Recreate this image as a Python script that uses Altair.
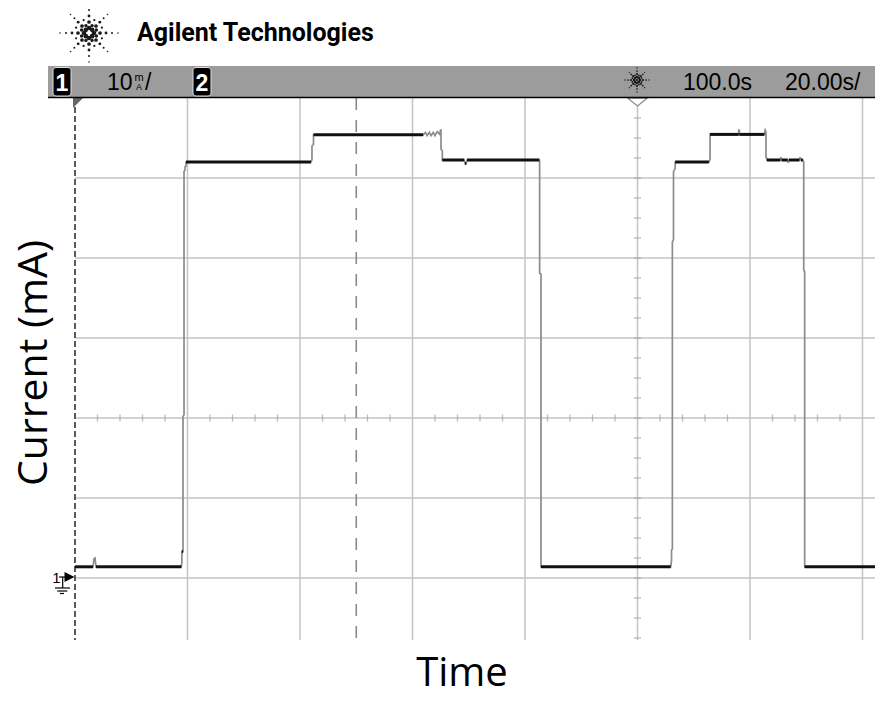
import math
import altair as alt
import pandas as pd

# ---------------- data read from the scope screen ----------------
# time in s (20 s/div), current in mA (10 mA/div), 0 mA = ground marker
trace_t = [0, 3.2, 3.38, 3.56, 3.73,
           18.9, 19.0, 19.0, 19.2, 19.2, 19.38, 19.38, 19.56, 19.56, 19.73, 19.73,
           41.96, 42.13, 42.13, 42.4, 42.4,
           61.9, 62.3, 62.6, 63.0, 63.3, 63.7, 64.0, 64.4, 64.8, 65.0, 65.07, 65.07, 65.3, 65.3,
           69.2, 69.35, 69.55, 69.7,
           82.55, 82.6, 82.6, 82.84, 82.84,
           105.9, 106.05, 106.05, 106.2, 106.2, 106.4, 106.4, 106.7, 106.7,
           112.7, 112.9, 112.9,
           118.0, 118.0, 118.1, 118.1,
           122.55, 122.7, 122.84, 122.84, 123.0, 123.0,
           125.4, 125.5, 125.6,
           126.7, 126.8, 126.9,
           128.8, 128.9, 129.05,
           129.4, 129.55, 129.55, 129.72, 129.72,
           143.64]
trace_i = [1.4, 1.4, 2.4, 2.5, 1.4,
           1.4, 1.9, 3.3, 3.3, 20.2, 20.4, 50.8, 51.0, 51.4, 51.5, 52.0,
           52.0, 52.3, 54.0, 54.2, 55.4,
           55.4, 55.7, 55.3, 55.7, 55.3, 55.7, 55.3, 55.8, 55.5, 56.0, 56.0, 53.6, 53.4, 52.25,
           52.25, 51.8, 51.8, 52.25,
           52.25, 52.0, 38.1, 38.0, 1.4,
           1.4, 2.2, 3.5, 3.6, 42.0, 42.3, 50.8, 51.2, 52.0,
           52.0, 52.3, 55.45,
           55.45, 56.0, 56.0, 55.45,
           55.45, 56.0, 55.8, 52.6, 52.4, 52.25,
           52.25, 52.6, 52.25,
           52.25, 51.9, 52.25,
           52.25, 52.6, 52.25,
           52.25, 52.0, 38.5, 38.3, 1.4,
           1.4]

grid_t = [20, 40, 60, 80, 100, 120, 140]
grid_i = [0, 10, 20, 30, 40, 50]
center_t = 100      # vertical graticule line carrying minor ticks
center_i = 20       # horizontal graticule line carrying minor ticks
cursor_t = [50]     # dashed cursor
edge_t = [0]        # dashed left edge
minor_t = [t for t in range(4, 144, 4) if t % 20]
minor_i = [k * 2.5 for k in range(-3, 24)]

bar_left_texts = ["10", "/"]
bar_right_texts = ["100.0s", "20.00s/"]
channel_labels = ["1", "2"]
header_text = "Agilent Technologies"
x_title = "Time"
y_title = "Current (mA)"

# ---------------- geometry helpers (screen px -> data units) ----------------
PX_PER_S = 5.625
PX_PER_MA = 8.0
LEFT, GROUND = 75.0, 578.0
PLOT_W, PLOT_H = 800, 542


def tx(px):
    return (px - LEFT) / PX_PER_S


def iy(py):
    return (GROUND - py) / PX_PER_MA


T_MAX = PLOT_W / PX_PER_S
I_MIN, I_MAX = iy(98 + PLOT_H), iy(98)

xs = alt.Scale(domain=[0, T_MAX], nice=False, zero=False)
ys = alt.Scale(domain=[I_MIN, I_MAX], nice=False, zero=False)


def X(f):
    return alt.X(f, type="quantitative", scale=xs, axis=None)


def Y(f):
    return alt.Y(f, type="quantitative", scale=ys, axis=None)


layers = []

# graticule
layers.append(alt.Chart(pd.DataFrame({"t": grid_t})).mark_rule(color="#c4c4c4", strokeWidth=1.5).encode(x=X("t")))
layers.append(alt.Chart(pd.DataFrame({"i": grid_i})).mark_rule(color="#c4c4c4", strokeWidth=1.5).encode(y=Y("i")))
layers.append(alt.Chart(pd.DataFrame({"t": minor_t, "i": [center_i] * len(minor_t)}))
              .mark_tick(orient="vertical", size=7, thickness=1.3, color="#a0a0a0")
              .encode(x=X("t"), y=Y("i")))
layers.append(alt.Chart(pd.DataFrame({"t": [center_t] * len(minor_i), "i": minor_i}))
              .mark_tick(orient="horizontal", size=7, thickness=1.3, color="#a0a0a0")
              .encode(x=X("t"), y=Y("i")))
layers.append(alt.Chart(pd.DataFrame({"t": cursor_t})).mark_rule(color="#8a8a8a", strokeWidth=1.6, strokeDash=[12, 10]).encode(x=X("t")))
layers.append(alt.Chart(pd.DataFrame({"t": edge_t})).mark_rule(color="#5a5a5a", strokeWidth=2, strokeDash=[6, 3]).encode(x=X("t")))

# trace: thin gray path + thick black horizontal runs
trace = pd.DataFrame({"t": trace_t, "i": trace_i, "idx": range(len(trace_t))})
layers.append(alt.Chart(trace).mark_line(color="#8c8c8c", strokeWidth=1.7, clip=True)
              .encode(x=X("t"), y=Y("i"), order="idx:Q"))
segs = []
for k in range(len(trace_t) - 1):
    if trace_i[k] == trace_i[k + 1] and trace_t[k + 1] - trace_t[k] > 0.15:
        segs.append({"t1": trace_t[k], "t2": min(trace_t[k + 1], T_MAX), "i": trace_i[k]})
layers.append(alt.Chart(pd.DataFrame(segs)).mark_rule(color="#111111", strokeWidth=3)
              .encode(x=X("t1"), x2=alt.X2("t2"), y=Y("i")))

# markers on the graticule
layers.append(alt.Chart(pd.DataFrame({"t": [tx(78)], "i": [iy(103)]}))
              .mark_point(shape="M -1 -1 L 1 -1 L -1 1 Z", size=100, filled=True, color="#666666", opacity=1)
              .encode(x=X("t"), y=Y("i")))
layers.append(alt.Chart(pd.DataFrame({"t": [center_t], "i": [iy(102)]}))
              .mark_point(shape="M -1 -0.4 L 1 -0.4 L 0 0.4 Z", size=400, filled=True, fill="white",
                          stroke="#8a8a8a", strokeWidth=1.3, opacity=1)
              .encode(x=X("t"), y=Y("i")))

# ground marker "1"
gnd = pd.DataFrame({
    "x1": [tx(59), tx(62.7), tx(55), tx(57.3), tx(60)],
    "x2": [tx(65), tx(62.7), tx(70), tx(67.3), tx(64)],
    "y1": [iy(577), iy(577), iy(588), iy(591), iy(593.5)],
    "y2": [iy(577), iy(588), iy(588), iy(591), iy(593.5)],
})
layers.append(alt.Chart(gnd).mark_rule(color="black", strokeWidth=1.2)
              .encode(x=X("x1"), x2=alt.X2("x2"), y=Y("y1"), y2=alt.Y2("y2")))
layers.append(alt.Chart(pd.DataFrame({"t": [tx(69.5)], "i": [iy(577)]}))
              .mark_point(shape="M -1 -1 L 1 0 L -1 1 Z", size=100, filled=True, color="black", opacity=1)
              .encode(x=X("t"), y=Y("i")))
layers.append(alt.Chart(pd.DataFrame({"t": [tx(56.5)], "i": [iy(583)], "s": ["1"]}))
              .mark_text(font="Liberation Sans", fontSize=15, align="center", baseline="alphabetic", color="black")
              .encode(x=X("t"), y=Y("i"), text="s:N"))

# status bar
layers.append(alt.Chart(pd.DataFrame({"x1": [tx(48)], "x2": [tx(900)], "y1": [iy(66)], "y2": [iy(97)]}))
              .mark_rect(color="#9c9c9c").encode(x=X("x1"), x2=alt.X2("x2"), y=Y("y1"), y2=alt.Y2("y2")))
layers.append(alt.Chart(pd.DataFrame({"x1": [tx(48)], "x2": [tx(900)], "y": [iy(97.5)]}))
              .mark_rule(color="black", strokeWidth=1.6).encode(x=X("x1"), x2=alt.X2("x2"), y=Y("y")))
boxes = pd.DataFrame({"x1": [tx(53), tx(193)], "x2": [tx(71), tx(211)],
                      "y1": [iy(67.5), iy(67.5)], "y2": [iy(96), iy(96)]})
layers.append(alt.Chart(boxes).mark_rect(color="black", cornerRadius=3, stroke="#e0e0e0", strokeWidth=1)
              .encode(x=X("x1"), x2=alt.X2("x2"), y=Y("y1"), y2=alt.Y2("y2")))
layers.append(alt.Chart(pd.DataFrame({"t": [tx(62), tx(202)], "i": [iy(90.5), iy(90.5)], "s": channel_labels}))
              .mark_text(font="Liberation Sans", fontWeight="bold", fontSize=23, align="center",
                         baseline="alphabetic", color="white")
              .encode(x=X("t"), y=Y("i"), text="s:N"))
layers.append(alt.Chart(pd.DataFrame({"t": [tx(107), tx(145), tx(683), tx(785)],
                                      "i": [iy(90)] * 4,
                                      "s": bar_left_texts + bar_right_texts}))
              .mark_text(font="Liberation Sans", fontSize=23, align="left", baseline="alphabetic", color="black")
              .encode(x=X("t"), y=Y("i"), text="s:N"))
layers.append(alt.Chart(pd.DataFrame({"t": [tx(139)], "i": [iy(81)], "s": ["m"]}))
              .mark_text(font="Liberation Sans", fontSize=11, align="center", baseline="alphabetic", color="black")
              .encode(x=X("t"), y=Y("i"), text="s:N"))
layers.append(alt.Chart(pd.DataFrame({"t": [tx(139)], "i": [iy(90)], "s": ["A"]}))
              .mark_text(font="Liberation Sans", fontSize=9, align="center", baseline="alphabetic", color="black")
              .encode(x=X("t"), y=Y("i"), text="s:N"))


# starburst logos
def burst(cx, cy, radii, sizes, minor_radii=(), minor_sizes=()):
    rows = []
    for a10 in range(0, 3600, 225):
        a = a10 / 10.0
        if a10 % 450 == 0:
            f = 0.9 if a10 % 900 else 1.0
            rs, ss = radii, sizes
        else:
            f = 1.0
            rs, ss = minor_radii, minor_sizes
        for r, s in zip(rs, ss):
            rr = r * f
            rows.append({"t": tx(cx + rr * math.cos(math.radians(a))),
                         "i": iy(cy - rr * math.sin(math.radians(a))), "s": s})
    return rows


logo = burst(89, 33, [5, 11, 17, 23, 29], [22, 14, 8, 4, 2.5], [8, 14], [12, 5])
small = burst(637, 80, [3, 6, 9, 12], [7, 5, 3, 1.8], [5], [3]) + [{"t": tx(637), "i": iy(80), "s": 5}]
layers.append(alt.Chart(pd.DataFrame(logo + small)).mark_circle(color="#1a1a1a", opacity=1)
              .encode(x=X("t"), y=Y("i"), size=alt.Size("s:Q", scale=None, legend=None)))

# header text
layers.append(alt.Chart(pd.DataFrame({"t": [tx(137)], "i": [iy(41)], "s": [header_text]}))
              .mark_text(font="Roboto", fontWeight="bold", fontSize=25, align="left", baseline="alphabetic", color="black")
              .encode(x=X("t"), y=Y("i"), text="s:N"))

# axis titles
layers.append(alt.Chart(pd.DataFrame({"t": [tx(35)], "i": [iy(363)], "s": [y_title]}))
              .mark_text(font="Open Sans", fontSize=41, angle=270, align="center", baseline="middle", color="black")
              .encode(x=X("t"), y=Y("i"), text="s:N"))
layers.append(alt.Chart(pd.DataFrame({"t": [tx(462)], "i": [iy(686)], "s": [x_title]}))
              .mark_text(font="Open Sans", fontSize=40, align="center", baseline="alphabetic", color="black")
              .encode(x=X("t"), y=Y("i"), text="s:N"))

chart = alt.layer(*layers).properties(
    width=PLOT_W, height=PLOT_H,
    padding={"left": 67, "top": 90, "right": 0, "bottom": 48},
    autosize=alt.AutoSizeParams(type="none"),
    background="white",
).configure_view(stroke=None)

chart.save("out.html", embed_options={"renderer": "svg", "actions": False})
